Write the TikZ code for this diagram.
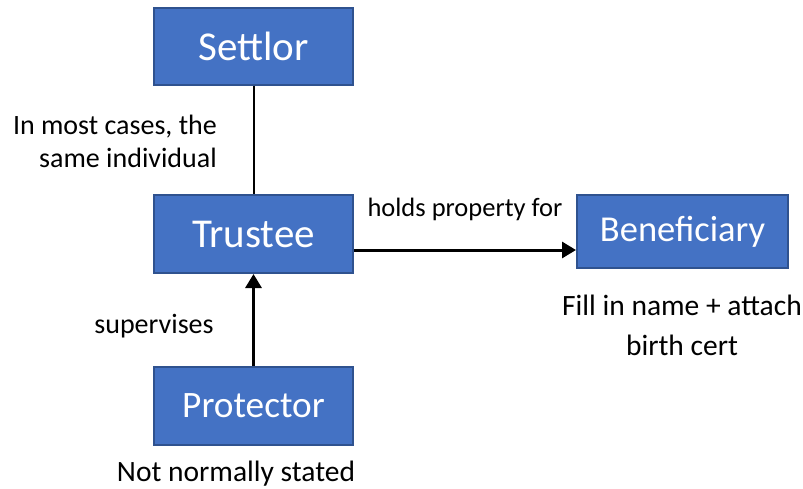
\documentclass[tikz,border=0pt]{standalone}
\usepackage{fontspec}
\setmainfont{Carlito}
\usetikzlibrary{arrows.meta}
\definecolor{boxfill}{HTML}{4472C4}
\definecolor{boxline}{HTML}{2F528F}
\tikzset{
  entity/.style={draw=boxline, line width=2pt, fill=boxfill, text=white, minimum width=199pt, minimum height=77pt, inner sep=0pt, font=\fontsize{41}{48}\selectfont},
  lbl/.style={text=black, inner sep=0pt, font=\fontsize{28}{33}\selectfont, align=center},
  conn/.style={line width=2pt, black},
  arr/.style={line width=3pt, black, -{Triangle[length=14pt,width=16pt]}}
}
\begin{document}
\begin{tikzpicture}[x=1pt,y=-1pt]
\useasboundingbox[fill=white] (0,0) rectangle (803,488);
\node[entity] (settlor) at (253.5,46) {Settlor};
\node[entity, minimum height=78pt] (trustee) at (253.5,234) {Trustee};
\node[entity, minimum width=211pt, minimum height=73pt, font=\fontsize{36.5}{42}\selectfont] (benef) at (682.5,231.5) {Beneficiary};
\node[entity, minimum height=78pt, font=\fontsize{37.3}{44}\selectfont] (protector) at (253.5,406) {Protector};
\draw[conn] (settlor.south) -- (trustee.north);
\coordinate (tA) at (trustee.east |- 0,250);
\coordinate (bA) at (benef.west |- 0,250);
\draw[arr] (tA) -- (bA);
\draw[arr] (protector.north) -- (trustee.south);
\node[lbl, align=right, anchor=east] (l1) at (217,141) {In most cases, the\\same individual};
\node[lbl, font=\fontsize{26.5}{32}\selectfont] (l2) at (465,209) {holds property for};
\node[lbl] (l3) at (154,326) {supervises};
\node[lbl, font=\fontsize{29.5}{40}\selectfont] (l4) at (682,325) {Fill in name + attach\\birth cert};
\node[lbl, font=\fontsize{29.5}{35}\selectfont] (l5) at (236,474) {Not normally stated};
\end{tikzpicture}
\end{document}
